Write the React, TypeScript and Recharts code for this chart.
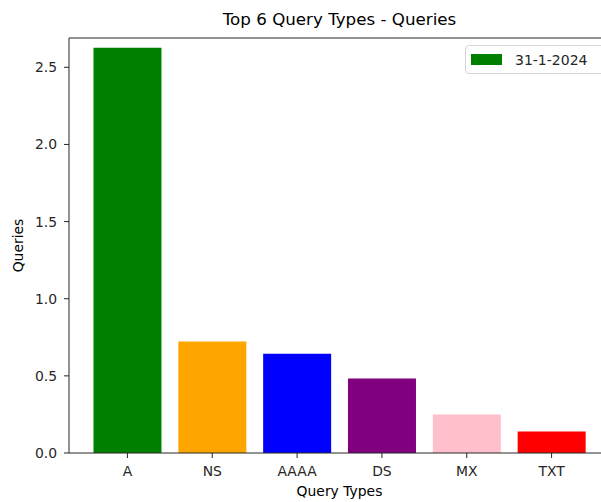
import React from "react";
import {
  Bar,
  BarChart,
  Cell,
  Label,
  ReferenceLine,
  XAxis,
  YAxis,
} from "recharts";

const queryTypes = ["A", "NS", "AAAA", "DS", "MX", "TXT"];
const queries = [2.627, 0.723, 0.643, 0.483, 0.25, 0.14];
const barColors = ["#008000", "#ffa500", "#0000ff", "#800080", "#ffc0cb", "#ff0000"];
const yTicks = [0, 0.5, 1.0, 1.5, 2.0, 2.5];
const yMax = 2.69;
const seriesName = "31-1-2024";

const FONT = "'DejaVu Sans', sans-serif";
const INK = "#262626";

const rows = queryTypes.map((t, i) => ({ type: t, queries: queries[i] }));

// matplotlib-style legend box, top right of the axes
function LegendBox() {
  return (
    <div
      style={{
        position: "absolute",
        left: 465,
        top: 45,
        display: "flex",
        alignItems: "center",
        boxSizing: "border-box",
        width: 150,
        height: 29,
        border: "1px solid #d6d6d6",
        borderRadius: 4,
        background: "rgba(255,255,255,0.8)",
        fontFamily: FONT,
        fontSize: 14,
        color: INK,
        paddingLeft: 5,
      }}
    >
      <span
        style={{
          display: "inline-block",
          width: 31,
          height: 11,
          background: barColors[0],
          marginRight: 13,
        }}
      />
      <span>{seriesName}</span>
    </div>
  );
}

export default function App() {
  return (
    <div
      style={{
        position: "absolute",
        left: 0,
        top: 0,
        width: 601,
        height: 502,
        overflow: "hidden",
        background: "#fff",
      }}
    >
      <div
        style={{
          position: "absolute",
          left: 69,
          width: 541,
          top: 8,
          textAlign: "center",
          fontFamily: FONT,
          fontSize: 16.7,
          lineHeight: "22px",
          color: "#000",
        }}
      >
        Top 6 Query Types - Queries
      </div>
      {/* plot runs past the right edge, like the cropped original */}
      <BarChart
        width={620}
        height={502}
        data={rows}
        margin={{ top: 38, right: 10, bottom: 19, left: 0 }}
        barCategoryGap="10%"
        style={{ fontFamily: FONT }}
      >
        <ReferenceLine y={yMax} stroke={INK} strokeWidth={1} />
        <XAxis
          dataKey="type"
          height={30}
          padding={{ left: 16, right: 16 }}
          tickSize={5}
          tickMargin={8}
          tick={{ fontSize: 13.9, fill: INK }}
          tickLine={{ stroke: INK }}
          axisLine={{ stroke: INK }}
        >
          <Label
            value="Query Types"
            position="bottom"
            offset={3}
            style={{ fontSize: 13.9, fill: "#000", fontFamily: FONT }}
          />
        </XAxis>
        <YAxis
          width={69}
          domain={[0, yMax]}
          ticks={yTicks}
          tickFormatter={(v: number) => v.toFixed(1)}
          tickSize={5}
          tickMargin={7}
          tick={{ fontSize: 13.9, fill: INK }}
          tickLine={{ stroke: INK }}
          axisLine={{ stroke: INK }}
        >
          <Label
            value="Queries"
            angle={-90}
            position="insideLeft"
            offset={18}
            style={{
              fontSize: 13.9,
              fill: "#000",
              fontFamily: FONT,
              textAnchor: "middle",
            }}
          />
        </YAxis>
        <Bar dataKey="queries" name={seriesName} isAnimationActive={false}>
          {rows.map((r, i) => (
            <Cell key={r.type} fill={barColors[i]} />
          ))}
        </Bar>
      </BarChart>
      <LegendBox />
    </div>
  );
}
